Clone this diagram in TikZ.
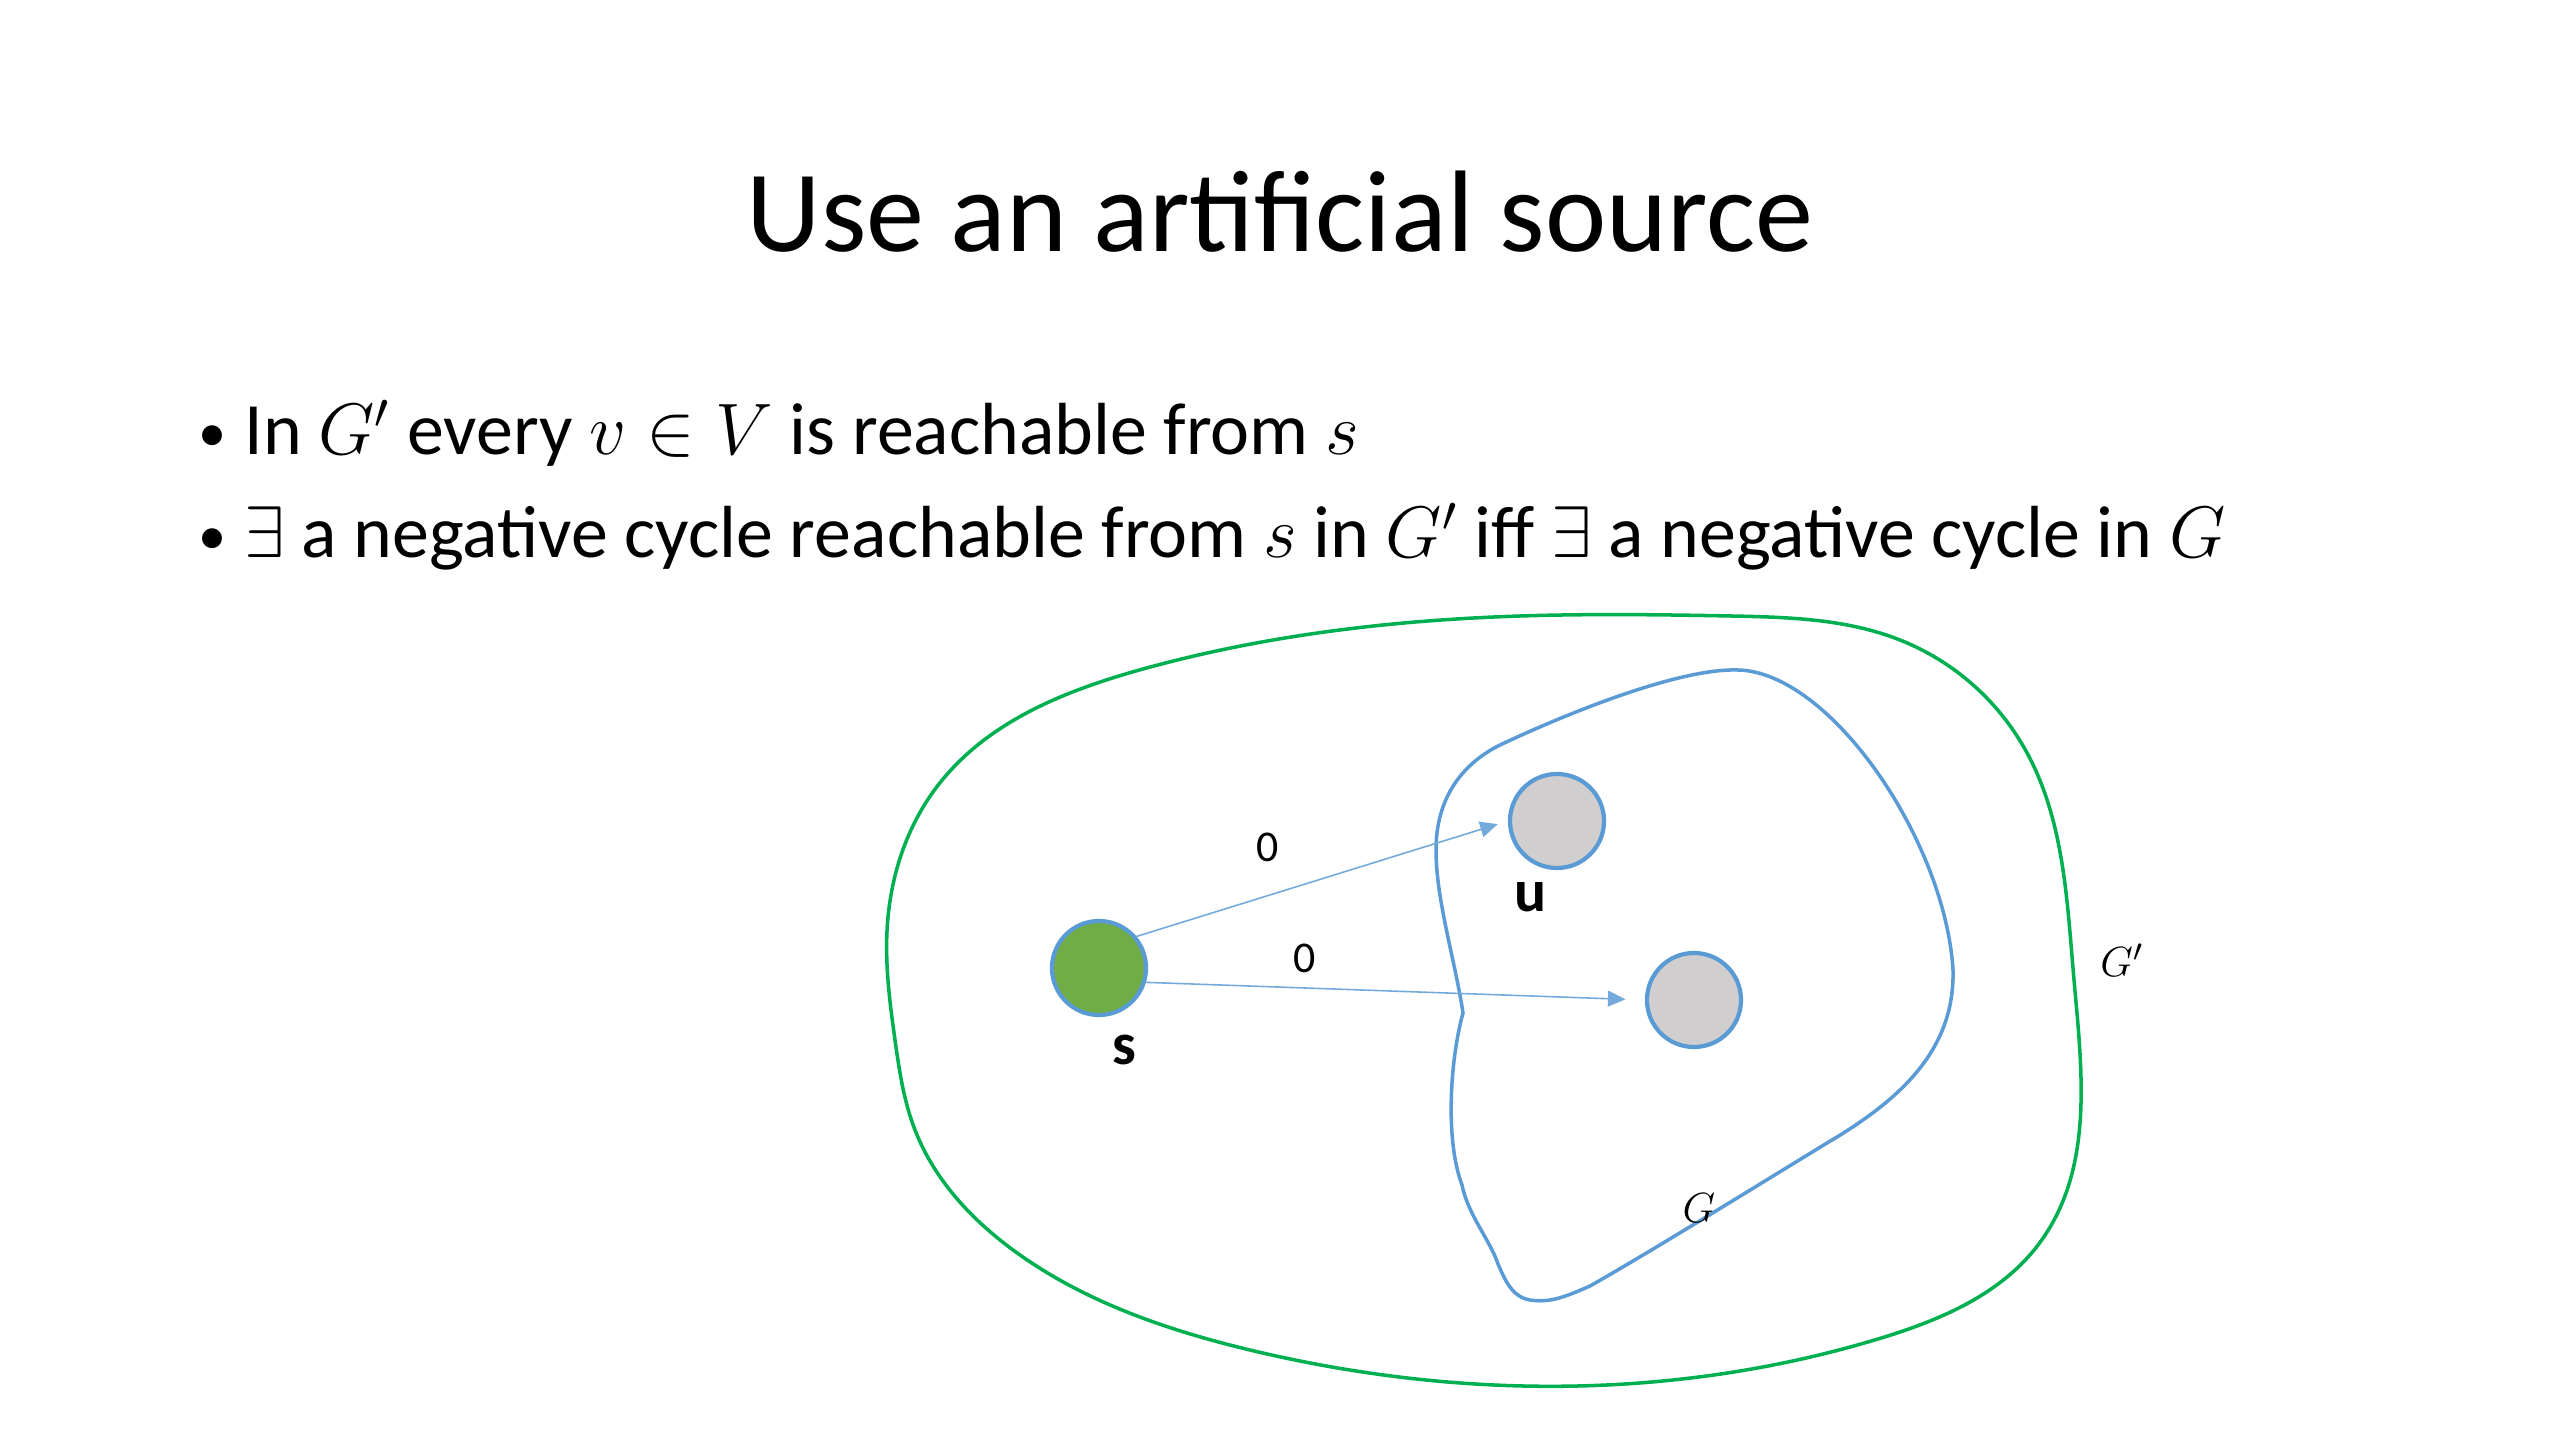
\documentclass[tikz,border=0pt]{standalone}
\usepackage{fontspec}
\setmainfont{Carlito}
\usetikzlibrary{arrows.meta,hobby}
\definecolor{outergreen}{RGB}{0,176,80}
\definecolor{innerblue}{RGB}{91,155,213}
\definecolor{sgreen}{RGB}{112,173,71}
\definecolor{vgray}{RGB}{208,206,206}
\newcommand{\bul}{\makebox[0.62em][l]{\raisebox{0.05em}{\fontsize{16}{16}\selectfont\textbullet}}}

\begin{document}
\begin{tikzpicture}[x=0.01cm,y=-0.01cm,
    vertex/.style={circle,draw=innerblue,line width=1.2pt,minimum size=0.94cm,inner sep=0pt},
    edge/.style={-{Triangle[length=5pt,width=4.5pt]},innerblue!85,line width=0.45pt},
    bullet/.style={anchor=base west,font=\fontsize{21}{24}\selectfont,inner sep=0pt},
    lbl/.style={font=\fontsize{17}{20}\selectfont\bfseries},
    wt/.style={font=\fontsize{12.5}{15}\selectfont}]
        \useasboundingbox (0,0) rectangle (2560,1440);

        % title and bullets
        \node[font=\fontsize{33}{40}\selectfont] (title) at (1280,212) {Use an artificial source};
        \node[bullet] (b1) at (198,455) {\bul In $G'$ every $v\in V$ is reachable from $s$};
        \node[bullet] (b2) at (198,558) {\bul$\exists$ a negative cycle reachable from $s$ in $G'$ iff $\exists$ a negative cycle in $G$};

        % G'
        \draw[outergreen,line width=1pt,use Hobby shortcut,closed=true]
            (1731,616) .. (1900,640) .. (2026,751) .. (2074,980) .. (2041,1241) .. (1878,1339)
            .. (1494,1385) .. (1250,1350) .. (1020,1255) .. (915,1130) .. (895,1040)
            .. (887,931) .. (939,784) .. (1143,669) .. (1494,617);
        % G
        \draw[innerblue,line width=1pt]
            (1738,670) .. controls (1830,672) and (1945,840) .. (1953,970)
            .. controls (1955,1050) and (1900,1100) .. (1827,1143)
            .. controls (1750,1190) and (1650,1252) .. (1590,1286)
            .. controls (1565,1297) and (1550,1303) .. (1530,1300)
            .. controls (1512,1297) and (1505,1280) .. (1498,1264)
            .. controls (1490,1240) and (1468,1215) .. (1462,1185)
            .. controls (1445,1140) and (1450,1060) .. (1463,1013)
            .. controls (1455,960) and (1436,900) .. (1436,850)
            .. controls (1436,800) and (1460,765) .. (1500,745)
            .. controls (1570,712) and (1680,668) .. cycle;

        \node (Gp) at (2122,960) {\fontsize{12.5}{15}\selectfont$G'$};
        \node (G) at (1699,1208) {\fontsize{12.5}{15}\selectfont$G$};

        % vertices
        \node[vertex,fill=sgreen] (s) at (1099,968) {};
        \node[vertex,fill=vgray] (u) at (1557,821) {};
        \node[vertex,fill=vgray] (v) at (1694,1000) {};
        \node[lbl] (slbl) at (1124,1050) {s};
        \node[lbl] (ulbl) at (1531,897) {u};

        \draw[edge,shorten >=3pt] (s.40) -- (u.west);
        \draw[edge,shorten >=5.5pt] (s.-17) -- (v.west);
        \node[wt] (w1) at (1268,847) {0};
        \node[wt] (w2) at (1305,958) {0};
    \end{tikzpicture}
\end{document}
